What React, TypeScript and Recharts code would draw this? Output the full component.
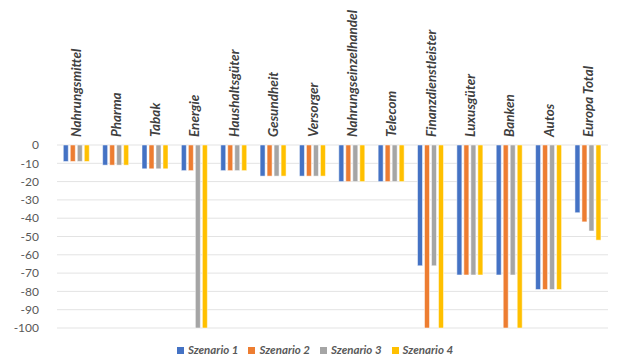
import { Bar, BarChart, CartesianGrid, Legend, XAxis, YAxis } from "recharts";

const sectors = [
  "Nahrungsmittel",
  "Pharma",
  "Tabak",
  "Energie",
  "Haushaltsgüter",
  "Gesundheit",
  "Versorger",
  "Nahrungseinzelhandel",
  "Telecom",
  "Finanzdienstleister",
  "Luxusgüter",
  "Banken",
  "Autos",
  "Europa Total",
];

const szenario1 = [-9, -11, -13, -14, -14, -17, -17, -20, -20, -66, -71, -71, -79, -37];
const szenario2 = [-9, -11, -13, -14, -14, -17, -17, -20, -20, -100, -71, -100, -79, -42];
const szenario3 = [-9, -11, -13, -100, -14, -17, -17, -20, -20, -66, -71, -71, -79, -47];
const szenario4 = [-9, -11, -13, -100, -14, -17, -17, -20, -20, -100, -71, -100, -79, -52];

const yTicks = [0, -10, -20, -30, -40, -50, -60, -70, -80, -90, -100];

const data = sectors.map((name, i) => ({
  name,
  s1: szenario1[i],
  s2: szenario2[i],
  s3: szenario3[i],
  s4: szenario4[i],
}));

const series = [
  { key: "s1", label: "Szenario 1", color: "#4472C4" },
  { key: "s2", label: "Szenario 2", color: "#ED7D31" },
  { key: "s3", label: "Szenario 3", color: "#A5A5A5" },
  { key: "s4", label: "Szenario 4", color: "#FFC000" },
];

const font = "Lato, 'Open Sans', sans-serif";

function SectorTick(props: any) {
  const { x, payload } = props;
  return (
    <text
      transform={`translate(${x},137) rotate(-90)`}
      textAnchor="start"
      dy="0.35em"
      fill="#404040"
      fontSize={13.5}
      fontWeight={700}
      fontStyle="italic"
      fontFamily={font}
    >
      {payload.value}
    </text>
  );
}

export default function App() {
  return (
    <div style={{ position: "absolute", left: 0, top: 0, width: 640, height: 360, background: "#fff" }}>
      <BarChart
        width={640}
        height={360}
        data={data}
        margin={{ top: 0, right: 32, bottom: 0, left: 0 }}
        barCategoryGap="16%"
        barGap={2}
      >
        <CartesianGrid stroke="#e3e3e3" vertical={false} />
        <XAxis
          dataKey="name"
          orientation="top"
          height={145}
          interval={0}
          axisLine={false}
          tickLine={false}
          tick={<SectorTick />}
        />
        <YAxis
          domain={[-100, 0]}
          ticks={yTicks}
          interval={0}
          width={57}
          axisLine={false}
          tickLine={false}
          tick={{ fill: "#595959", fontSize: 12, fontFamily: font }}
          tickMargin={12}
        />
        <Legend
          verticalAlign="bottom"
          height={20}
          iconType="square"
          iconSize={7}
          wrapperStyle={{ paddingTop: 12, left: 0, width: 640 }}
          formatter={(value) => (
            <span
              style={{
                color: "#595959",
                fontSize: 11.5,
                fontWeight: 700,
                fontStyle: "italic",
                fontFamily: font,
              }}
            >
              {value}
            </span>
          )}
        />
        {series.map((s) => (
          <Bar
            key={s.key}
            dataKey={s.key}
            name={s.label}
            fill={s.color}
            stroke="#ffffff"
            strokeWidth={0.5}
            isAnimationActive={false}
          />
        ))}
      </BarChart>
    </div>
  );
}
